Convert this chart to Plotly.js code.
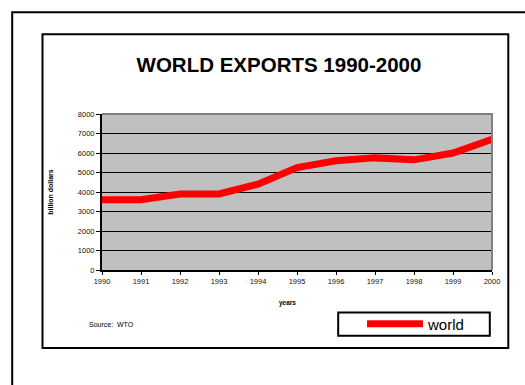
<!DOCTYPE html>
<html>
<head>
<meta charset="utf-8">
<script src="https://cdn.plot.ly/plotly-3.0.1.min.js"></script>
<style>
  html, body { margin: 0; padding: 0; background: #ffffff; }
  #chart { width: 525px; height: 385px; }
</style>
</head>
<body>
<div id="chart"></div>
<script>
// World exports, billion dollars (source: WTO)
const years = [1990, 1991, 1992, 1993, 1994, 1995, 1996, 1997, 1998, 1999, 2000];
const exportsWorld = [3600, 3600, 3900, 3900, 4400, 5250, 5600, 5750, 5650, 6000, 6700];
const yTicks = [0, 1000, 2000, 3000, 4000, 5000, 6000, 7000, 8000];
const seriesName = 'world';

const FONT = 'Arial, "Liberation Sans", sans-serif';

// plot area in pixels: x 102..492, y 114..270
const W = 525, H = 385;
const L = 102, R = 492, T = 114, B = 270;
const px = x => (x - L) / (R - L);   // pixel -> paper x
const py = y => (B - y) / (B - T);   // pixel -> paper y

const trace = {
  x: years,
  y: exportsWorld,
  type: 'scatter',
  mode: 'lines',
  name: seriesName,
  line: { color: '#ff0000', width: 7 }
};

const layout = {
  width: W,
  height: H,
  margin: { l: L, r: W - R, t: T, b: H - B, pad: 0 },
  paper_bgcolor: '#ffffff',
  plot_bgcolor: '#c0c0c0',
  font: { family: FONT, color: '#000000' },
  title: {
    text: 'WORLD EXPORTS 1990-2000',
    font: { family: FONT, size: 20.5, weight: 'bold', color: '#000000' },
    xref: 'container', x: 279 / W, xanchor: 'center',
    yref: 'container', y: 1 - 65 / H, yanchor: 'middle'
  },
  xaxis: {
    range: [1990, 2000],
    tickmode: 'array',
    tickvals: years,
    ticktext: years.map(String),
    showgrid: false,
    zeroline: false,
    showline: true, linecolor: '#000000', linewidth: 2,
    ticks: 'outside', ticklen: 3, tickwidth: 1, tickcolor: '#000000',
    tickfont: { family: FONT, size: 7.5, color: '#111111' },
    fixedrange: true
  },
  yaxis: {
    range: [0, 8000],
    tickmode: 'array',
    tickvals: yTicks,
    ticktext: yTicks.map(String),
    showgrid: true, gridcolor: '#000000', gridwidth: 1,
    zeroline: false,
    showline: true, linecolor: '#000000', linewidth: 2,
    ticks: 'outside', ticklen: 4, tickwidth: 1, tickcolor: '#000000',
    tickfont: { family: FONT, size: 7.5, color: '#111111' },
    title: {
      text: 'billion dollars',
      font: { family: FONT, size: 7, weight: 'bold', color: '#000000' },
      standoff: 23
    },
    fixedrange: true
  },
  showlegend: true,
  legend: {
    x: px(362), xanchor: 'left',
    y: py(324), yanchor: 'middle',
    bgcolor: 'rgba(0,0,0,0)',
    borderwidth: 0,
    itemwidth: 56,
    font: { family: FONT, size: 15, color: '#000000' }
  },
  annotations: [
    {
      text: '<b>years</b>',
      xref: 'paper', yref: 'paper',
      x: px(287), y: py(303), xanchor: 'center', yanchor: 'middle',
      showarrow: false,
      font: { family: FONT, size: 6.5, color: '#000000' }
    },
    {
      text: 'Source:  WTO',
      xref: 'paper', yref: 'paper',
      x: px(87), y: py(324), xanchor: 'left', yanchor: 'middle',
      showarrow: false,
      font: { family: FONT, size: 7, color: '#000000' }
    }
  ],
  shapes: [
    // outer frame (runs off the right and bottom edges)
    {
      type: 'rect', xref: 'paper', yref: 'paper', layer: 'above',
      x0: px(12.2), x1: px(540), y0: py(400), y1: py(12.2),
      line: { color: '#000000', width: 2 }, fillcolor: 'rgba(0,0,0,0)'
    },
    // chart frame
    {
      type: 'rect', xref: 'paper', yref: 'paper', layer: 'above',
      x0: px(42.5), x1: px(508.3), y0: py(348), y1: py(34.2),
      line: { color: '#000000', width: 2 }, fillcolor: 'rgba(0,0,0,0)'
    },
    // grey top and right edges of the plot area
    {
      type: 'path', xref: 'paper', yref: 'paper', layer: 'above',
      path: 'M0,1 L1,1 L1,0',
      line: { color: '#808080', width: 2 }
    },
    // legend frame
    {
      type: 'rect', xref: 'paper', yref: 'paper', layer: 'above',
      x0: px(338.2), x1: px(489.8), y0: py(335.8), y1: py(312.5),
      line: { color: '#000000', width: 2 }, fillcolor: 'rgba(0,0,0,0)'
    }
  ]
};

Plotly.newPlot('chart', [trace], layout, { staticPlot: true, displayModeBar: false });
</script>
</body>
</html>
